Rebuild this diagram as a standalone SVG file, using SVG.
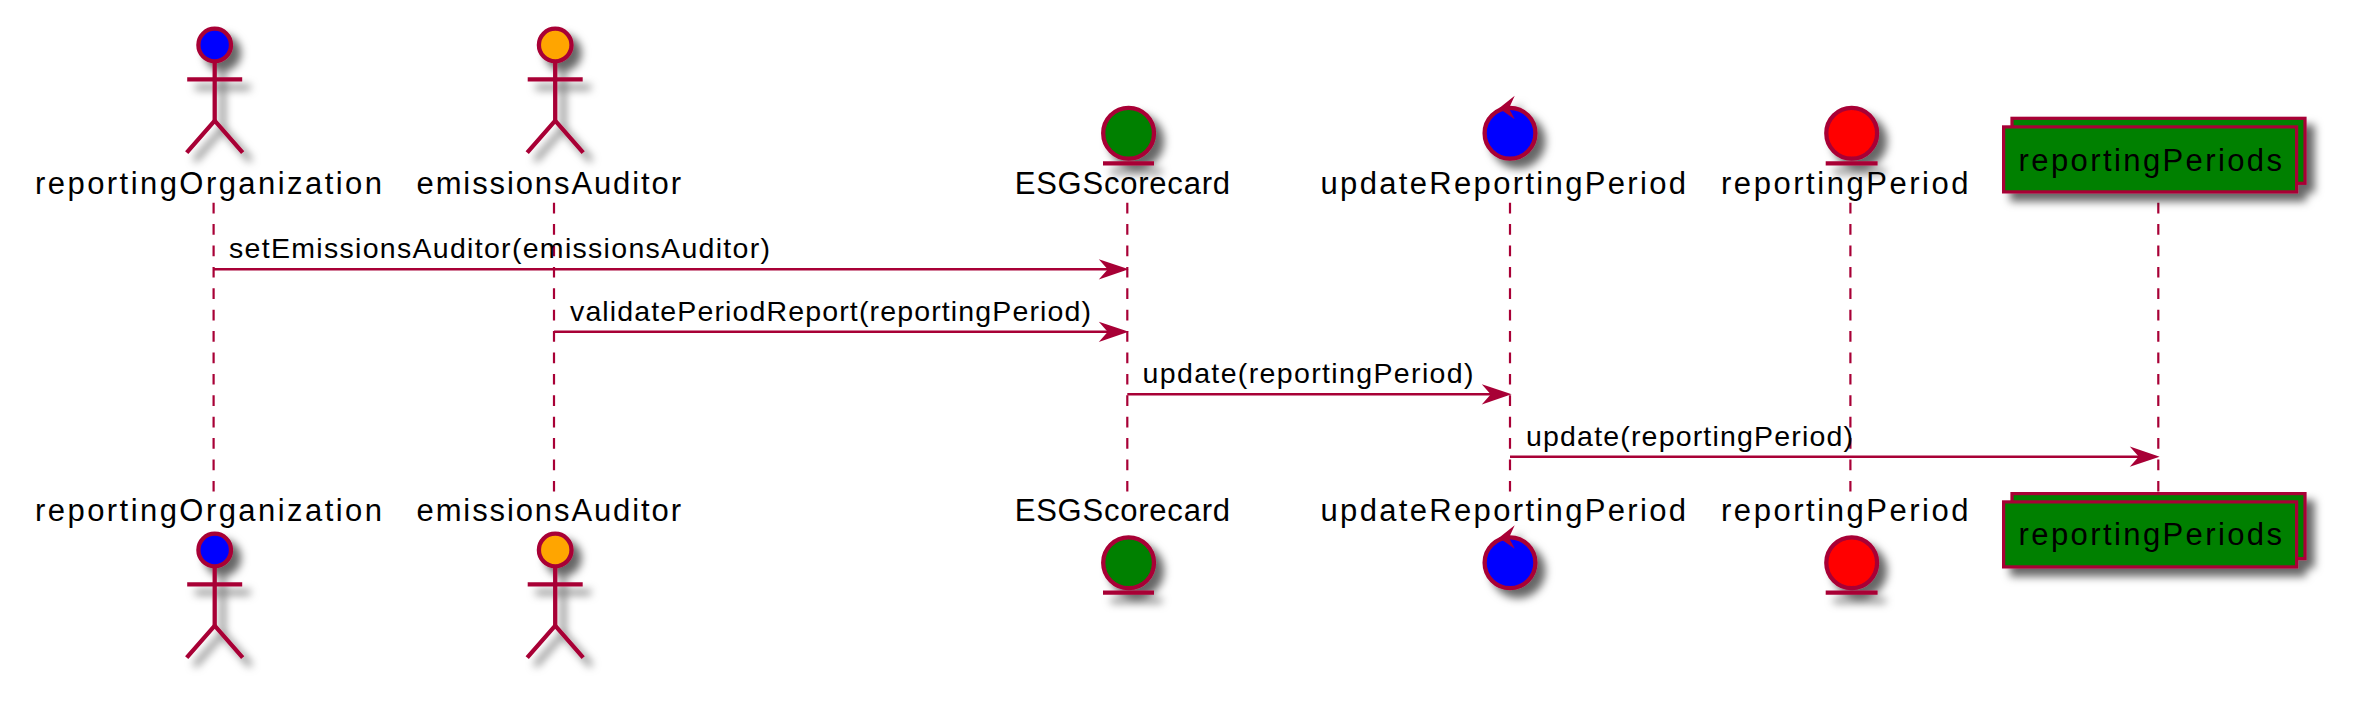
<svg xmlns="http://www.w3.org/2000/svg" width="2366" height="706" viewBox="0 0 2366 706">
<style>
text{font-family:"Liberation Sans",Arial,sans-serif;fill:#000}
.p{font-size:31px}
.m{font-size:28.5px}
.s{stroke:#A80036;stroke-width:4.3;fill:none}
.c{stroke:#A80036;stroke-width:4.3}
.life{stroke:#A80036;stroke-width:2.2;stroke-dasharray:10.7 10.7;fill:none}
.msg{stroke:#A80036;stroke-width:2.6;fill:none}
.head{fill:#A80036;stroke:#A80036;stroke-width:2}
.tri{fill:#A80036}
.rect{stroke:#A80036;stroke-width:3.2;fill:#008000}
</style>
<defs>
<filter id="sh" x="-30%" y="-30%" width="170%" height="170%"><feDropShadow dx="8" dy="8" stdDeviation="4.5" flood-color="#000" flood-opacity="0.6"/></filter>
<g id="actor"><g class="s"><line x1="0" y1="18" x2="0" y2="75.7"/><line x1="-27.5" y1="34.3" x2="27.5" y2="34.3"/><path d="M-28 107.7L0 75.7L28 107.7"/></g></g>
<polygon id="arrowhead" class="head" points="0,0 -23.5,-8 -16.5,0 -23.5,8"/>
<polygon id="ctlhead" class="tri" points="4.7,-37.5 -11,-25 4.7,-14 -1,-25"/>
</defs>
<g id="connectors">
<g id="lifelines">
<line class="life" x1="213.6" y1="202.7" x2="213.6" y2="491.7"/>
<line class="life" x1="554" y1="202.7" x2="554" y2="491.7"/>
<line class="life" x1="1127.3" y1="202.7" x2="1127.3" y2="491.7"/>
<line class="life" x1="1510" y1="202.7" x2="1510" y2="491.7"/>
<line class="life" x1="1850.4" y1="202.7" x2="1850.4" y2="491.7"/>
<line class="life" x1="2158.3" y1="202.7" x2="2158.3" y2="491.7"/>
</g>
<g id="m1"><line class="msg" x1="213.6" y1="269.3" x2="1124" y2="269.3"/><use href="#arrowhead" x="1125.5" y="269.3"/><text class="m" x="229" y="258.3" textLength="541">setEmissionsAuditor(emissionsAuditor)</text></g>
<g id="m2"><line class="msg" x1="554" y1="331.8" x2="1124" y2="331.8"/><use href="#arrowhead" x="1125.5" y="331.8"/><text class="m" x="570" y="320.8" textLength="521">validatePeriodReport(reportingPeriod)</text></g>
<g id="m3"><line class="msg" x1="1127.3" y1="394.3" x2="1507" y2="394.3"/><use href="#arrowhead" x="1508.5" y="394.3"/><text class="m" x="1142.5" y="383.3" textLength="331">update(reportingPeriod)</text></g>
<g id="m4"><line class="msg" x1="1510" y1="456.7" x2="2155" y2="456.7"/><use href="#arrowhead" x="2156.5" y="456.7"/><text class="m" x="1526" y="445.7" textLength="327">update(reportingPeriod)</text></g>
</g>
<g id="reportingOrganization">
<g filter="url(#sh)"><circle class="c" fill="#0000FF" cx="214.7" cy="45" r="16.3"/><use href="#actor" x="214.7" y="45"/></g>
<text class="p" x="35" y="194.3" textLength="347">reportingOrganization</text>
</g>
<g id="emissionsAuditor">
<g filter="url(#sh)"><circle class="c" fill="#FFA500" cx="555.2" cy="45" r="16.3"/><use href="#actor" x="555.2" y="45"/></g>
<text class="p" x="416.5" y="194.3" textLength="264.5">emissionsAuditor</text>
</g>
<g id="ESGScorecard">
<g filter="url(#sh)"><circle class="c" fill="#008000" cx="1128.6" cy="133.3" r="25.4"/><line class="c" x1="1103" y1="163.3" x2="1154" y2="163.3"/></g>
<text class="p" x="1014.7" y="194.3" textLength="215.3">ESGScorecard</text>
</g>
<g id="updateReportingPeriod">
<g filter="url(#sh)"><circle class="c" fill="#0000FF" cx="1510" cy="133.3" r="25.4"/><use href="#ctlhead" x="1510" y="133.3"/></g>
<text class="p" x="1320.5" y="194.3" textLength="365.5">updateReportingPeriod</text>
</g>
<g id="reportingPeriod">
<g filter="url(#sh)"><circle class="c" fill="#FF0000" cx="1851.7" cy="133.3" r="25.4"/><line class="c" x1="1825.7" y1="163.3" x2="1877.6" y2="163.3"/></g>
<text class="p" x="1721" y="194.3" textLength="247.5">reportingPeriod</text>
</g>
<g id="reportingPeriods">
<g filter="url(#sh)"><rect class="rect" x="2012" y="118.3" width="293" height="65"/><rect class="rect" x="2003.6" y="126.9" width="293" height="65"/></g>
<text class="p" x="2018.6" y="170.5" textLength="263.4">reportingPeriods</text>
</g>
<g id="reportingOrganization-bottom">
<text class="p" x="35" y="520.7" textLength="347">reportingOrganization</text>
<g filter="url(#sh)"><circle class="c" fill="#0000FF" cx="214.7" cy="550" r="16.3"/><use href="#actor" x="214.7" y="550"/></g>
</g>
<g id="emissionsAuditor-bottom">
<text class="p" x="416.5" y="520.7" textLength="264.5">emissionsAuditor</text>
<g filter="url(#sh)"><circle class="c" fill="#FFA500" cx="555.2" cy="550" r="16.3"/><use href="#actor" x="555.2" y="550"/></g>
</g>
<g id="ESGScorecard-bottom">
<text class="p" x="1014.7" y="520.7" textLength="215.3">ESGScorecard</text>
<g filter="url(#sh)"><circle class="c" fill="#008000" cx="1128.6" cy="562.7" r="25.4"/><line class="c" x1="1103" y1="592.7" x2="1154" y2="592.7"/></g>
</g>
<g id="updateReportingPeriod-bottom">
<text class="p" x="1320.5" y="520.7" textLength="365.5">updateReportingPeriod</text>
<g filter="url(#sh)"><circle class="c" fill="#0000FF" cx="1510" cy="562.7" r="25.4"/><use href="#ctlhead" x="1510" y="562.7"/></g>
</g>
<g id="reportingPeriod-bottom">
<text class="p" x="1721" y="520.7" textLength="247.5">reportingPeriod</text>
<g filter="url(#sh)"><circle class="c" fill="#FF0000" cx="1851.7" cy="562.7" r="25.4"/><line class="c" x1="1825.7" y1="592.7" x2="1877.6" y2="592.7"/></g>
</g>
<g id="reportingPeriods-bottom">
<g filter="url(#sh)"><rect class="rect" x="2012" y="493.6" width="293" height="65"/><rect class="rect" x="2003.6" y="501.9" width="293" height="65"/></g>
<text class="p" x="2018.6" y="545" textLength="263.4">reportingPeriods</text>
</g>
</svg>
